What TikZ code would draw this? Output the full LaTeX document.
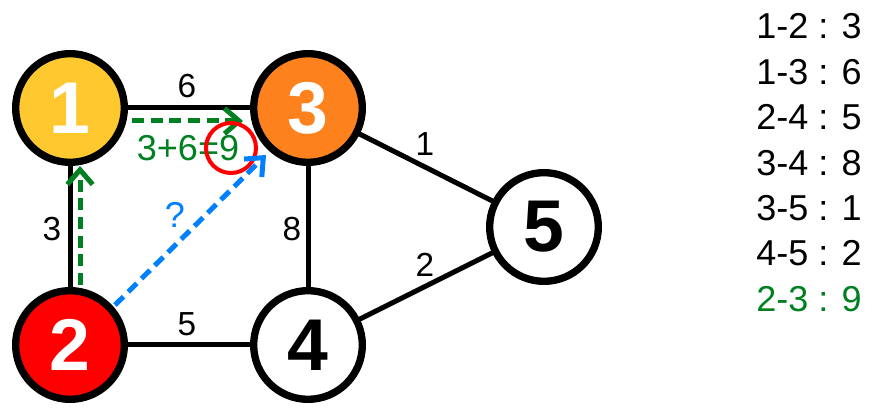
\documentclass[tikz,border=0pt]{standalone}
\usepackage{fontspec}
\setmainfont{Liberation Sans}
\usetikzlibrary{arrows.meta}
\definecolor{nodeyellow}{RGB}{254,200,46}
\definecolor{nodeorange}{RGB}{253,130,30}
\definecolor{nodered}{RGB}{255,0,0}
\definecolor{pathgreen}{RGB}{0,128,32}
\definecolor{askblue}{RGB}{0,128,255}
\begin{document}
\begin{tikzpicture}[x=0.75pt,y=-0.75pt,
  vertex/.style={circle, draw=black, line width=5.5pt, minimum size=81.5pt, inner sep=0pt,
    font=\fontsize{55}{55}\selectfont\bfseries},
  edgeline/.style={line width=3.75pt},
  wlabel/.style={font=\fontsize{25}{25}\selectfont, inner sep=0pt},
  listtext/.style={font=\fontsize{27}{27}\selectfont, inner sep=0pt},
  barb/.style={-{Straight Barb[length=11pt,width=19pt,line width=3.75pt]}},
  gpath/.style={draw=pathgreen, line width=3.75pt, dash pattern=on 9pt off 5pt, barb},
  bpath/.style={draw=askblue, line width=3.75pt, dash pattern=on 9pt off 5pt, barb}]
\useasboundingbox (0,0) rectangle (874,416);
% edges
\coordinate (c1) at (70,108);
\coordinate (c3) at (308,108);
\coordinate (c2) at (70,345);
\coordinate (c4) at (308,345);
\coordinate (c5) at (544,227);
\draw[edgeline] (c1) -- (c3);
\draw[edgeline] (c1) -- (c2);
\draw[edgeline] (c2) -- (c4);
\draw[edgeline] (c3) -- (c4);
\draw[edgeline] (c3) -- (c5);
\draw[edgeline] (c4) -- (c5);
% vertices
\node[vertex, fill=nodeyellow, text=white] (n1) at (c1) {1};
\node[vertex, fill=nodeorange, text=white] (n3) at (c3) {3};
\node[vertex, fill=nodered, text=white] (n2) at (c2) {2};
\node[vertex, fill=white] (n4) at (c4) {4};
\node[vertex, fill=white] (n5) at (c5) {5};
% weights
\node[wlabel] (w13) at (187,86) {6};
\node[wlabel] (w12) at (52,229) {3};
\node[wlabel] (w34) at (292,229) {8};
\node[wlabel] (w24) at (187,324) {5};
\node[wlabel] (w35) at (425,144) {1};
\node[wlabel] (w45) at (425,265) {2};
% green path
\coordinate (ga) at (80,285);
\coordinate (gb) at (80,166);
\coordinate (gc) at (132,121);
\coordinate (gd) at (243,121);
\draw[gpath] (ga) -- (gb);
\draw[gpath] (gc) -- (gd);
\node[font=\fontsize{27}{27}\selectfont, text=pathgreen, inner sep=0pt] (sum) at (188,148) {3+6=9};
\node[circle, draw=red, line width=3pt, minimum size=37.5pt, inner sep=0pt] (hl) at (231,148) {};
% blue query
\coordinate (ba) at (115,305);
\coordinate (bb) at (266,155);
\draw[bpath] (ba) -- (bb);
\node[font=\fontsize{27}{27}\selectfont, inner sep=0pt, text=askblue] (q) at (175,215) {?};
% list
\node[listtext] (l1) at (809,26) {1-2 : 3};
\node[listtext] (l2) at (809,72) {1-3 : 6};
\node[listtext] (l3) at (809,117) {2-4 : 5};
\node[listtext] (l4) at (809,163) {3-4 : 8};
\node[listtext] (l5) at (809,208) {3-5 : 1};
\node[listtext] (l6) at (809,253) {4-5 : 2};
\node[listtext, text=pathgreen] (l7) at (809,299) {2-3 : 9};
\end{tikzpicture}
\end{document}
